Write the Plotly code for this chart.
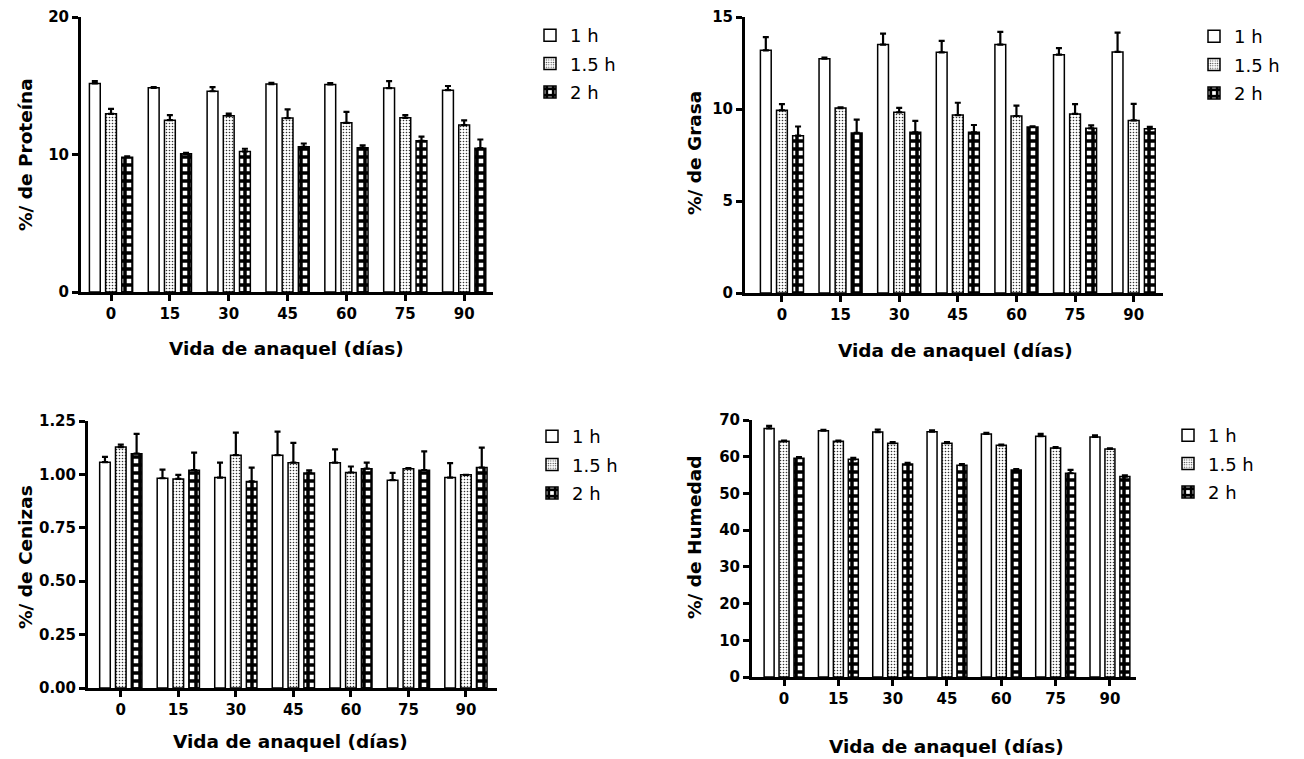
import plotly.graph_objects as go

# page body has an 8px margin; work in reference pixel coordinates and convert
OFF = 8
FW, FH = 1296, 751

dias = ["0", "15", "30", "45", "60", "75", "90"]
series_names = ["1 h", "1.5 h", "2 h"]

proteina_1h = [15.17, 14.85, 14.6, 15.12, 15.1, 14.83, 14.68]
proteina_1h_err = [0.17, 0.05, 0.3, 0.1, 0.1, 0.5, 0.3]
proteina_15h = [12.96, 12.5, 12.82, 12.65, 12.3, 12.67, 12.14]
proteina_15h_err = [0.36, 0.36, 0.15, 0.63, 0.8, 0.2, 0.34]
proteina_2h = [9.8, 10.05, 10.22, 10.56, 10.49, 11.0, 10.46]
proteina_2h_err = [0.07, 0.07, 0.2, 0.24, 0.17, 0.3, 0.63]

grasa_1h = [13.19, 12.73, 13.5, 13.08, 13.5, 12.95, 13.1]
grasa_1h_err = [0.72, 0.07, 0.6, 0.62, 0.69, 0.36, 1.05]
grasa_15h = [9.93, 10.05, 9.82, 9.67, 9.62, 9.73, 9.38]
grasa_15h_err = [0.34, 0.04, 0.24, 0.67, 0.56, 0.54, 0.9]
grasa_2h = [8.55, 8.7, 8.73, 8.73, 9.02, 8.95, 8.93]
grasa_2h_err = [0.5, 0.72, 0.62, 0.4, 0.04, 0.16, 0.1]

cenizas_1h = [1.057, 0.982, 0.985, 1.09, 1.055, 0.973, 0.985]
cenizas_1h_err = [0.025, 0.04, 0.07, 0.11, 0.062, 0.034, 0.068]
cenizas_15h = [1.128, 0.979, 1.09, 1.055, 1.009, 1.027, 0.998]
cenizas_15h_err = [0.011, 0.019, 0.106, 0.093, 0.028, 0.003, 0.0]
cenizas_2h = [1.097, 1.02, 0.967, 1.007, 1.027, 1.02, 1.032]
cenizas_2h_err = [0.093, 0.082, 0.065, 0.012, 0.028, 0.088, 0.093]

humedad_1h = [67.7, 67.1, 66.7, 66.8, 66.2, 65.6, 65.4]
humedad_1h_err = [0.7, 0.2, 0.7, 0.35, 0.3, 0.6, 0.45]
humedad_15h = [64.2, 64.2, 63.7, 63.7, 63.1, 62.4, 62.1]
humedad_15h_err = [0.2, 0.2, 0.3, 0.3, 0.2, 0.25, 0.2]
humedad_2h = [59.6, 59.3, 58.0, 57.7, 56.4, 55.5, 54.6]
humedad_2h_err = [0.3, 0.4, 0.3, 0.3, 0.2, 0.9, 0.3]

FONT = "DejaVu Sans, sans-serif"


def fx(px):
    return (px - OFF) / FW


def fy(py):
    return 1 - (py - OFF) / FH


patterns = [
    dict(shape="", fgcolor="black", bgcolor="white"),
    dict(shape=".", size=3, solidity=0.22, fgcolor="#333333", bgcolor="white"),
    dict(shape="+", size=8, solidity=0.68, fgcolor="black", bgcolor="white"),
]

# px: y-axis x, x-axis end; py: top value, zero; leg: (text start x, first item centre y)
panels = [
    dict(vals=[(proteina_1h, proteina_1h_err), (proteina_15h, proteina_15h_err), (proteina_2h, proteina_2h_err)],
         px=(81, 493), py=(17, 292), xr=[-0.51, 6.49], yr=[0, 20], ytv=[0, 10, 20], yfmt="d",
         ytitle="%/ de Proteína", ytx=(25, 155), xtx=(286, 348), leg=(570, 35)),
    dict(vals=[(grasa_1h, grasa_1h_err), (grasa_15h, grasa_15h_err), (grasa_2h, grasa_2h_err)],
         px=(745, 1163), py=(17, 293), xr=[-0.63, 6.5], yr=[0, 15], ytv=[0, 5, 10, 15], yfmt="d",
         ytitle="%/ de Grasa", ytx=(694, 153), xtx=(955, 350), leg=(1234, 36)),
    dict(vals=[(cenizas_1h, cenizas_1h_err), (cenizas_15h, cenizas_15h_err), (cenizas_2h, cenizas_2h_err)],
         px=(88, 497), py=(421, 688), xr=[-0.57, 6.54], yr=[0, 1.25], ytv=[0, 0.25, 0.5, 0.75, 1.0, 1.25], yfmt=".2f",
         ytitle="%/ de Cenizas", ytx=(25, 557), xtx=(290, 741), leg=(572, 436)),
    dict(vals=[(humedad_1h, humedad_1h_err), (humedad_15h, humedad_15h_err), (humedad_2h, humedad_2h_err)],
         px=(752, 1136), py=(420, 677), xr=[-0.59, 6.48], yr=[0, 70], ytv=[0, 10, 20, 30, 40, 50, 60, 70], yfmt="d",
         ytitle="%/ de Humedad", ytx=(694, 538), xtx=(946, 746), leg=(1208, 435)),
]

fig = go.Figure()
annotations = []
for i, p in enumerate(panels):
    n = i + 1
    xa = "x" if n == 1 else f"x{n}"
    ya = "y" if n == 1 else f"y{n}"
    legname = "legend" if n == 1 else f"legend{n}"
    for j, (vals, errs) in enumerate(p["vals"]):
        fig.add_trace(go.Bar(
            x=dias, y=vals, name=series_names[j],
            xaxis=xa, yaxis=ya, legend=legname, legendgroup=f"g{n}{j}",
            marker=dict(color="white", line=dict(color="black", width=1.5), pattern=patterns[j]),
            error_y=dict(type="data", symmetric=False, array=errs, arrayminus=[0] * len(errs),
                         color="black", thickness=2.2, width=3),
        ))
    axkey = "xaxis" if n == 1 else f"xaxis{n}"
    aykey = "yaxis" if n == 1 else f"yaxis{n}"
    fig.update_layout(**{
        axkey: dict(domain=[fx(p["px"][0]), fx(p["px"][1])], range=p["xr"], type="category",
                    anchor=ya, showline=True, linecolor="black", linewidth=3,
                    ticks="outside", ticklen=6, tickwidth=3, tickcolor="black",
                    showgrid=False, zeroline=False, automargin=False,
                    tickfont=dict(family=FONT, size=15, color="black", weight="bold")),
        aykey: dict(domain=[fy(p["py"][1]), fy(p["py"][0])], range=p["yr"],
                    anchor=xa, showline=True, linecolor="black", linewidth=3,
                    ticks="outside", ticklen=6, tickwidth=3, tickcolor="black",
                    tickvals=p["ytv"], tickformat=p["yfmt"],
                    showgrid=False, zeroline=False, automargin=False,
                    tickfont=dict(family=FONT, size=15, color="black", weight="bold")),
        legname: dict(x=fx(p["leg"][0] - 40), y=fy(p["leg"][1] - 18), xanchor="left", yanchor="top",
                      bgcolor="rgba(0,0,0,0)", tracegroupgap=2,
                      font=dict(family=FONT, size=18, color="black")),
    })
    annotations.append(dict(text=p["ytitle"], x=fx(p["ytx"][0]), y=fy(p["ytx"][1]),
                            xref="paper", yref="paper", showarrow=False, textangle=-90,
                            xanchor="center", yanchor="middle",
                            font=dict(family=FONT, size=18.5, color="black", weight="bold")))
    annotations.append(dict(text="Vida de anaquel (días)", x=fx(p["xtx"][0]), y=fy(p["xtx"][1]),
                            xref="paper", yref="paper", showarrow=False,
                            xanchor="center", yanchor="middle",
                            font=dict(family=FONT, size=18.5, color="black", weight="bold")))

fig.update_layout(
    template="none",
    width=FW, height=FH, margin=dict(l=0, r=0, t=0, b=0, autoexpand=False),
    paper_bgcolor="white", plot_bgcolor="white",
    barmode="group", bargap=0.175, bargroupgap=0.33,
    showlegend=True, annotations=annotations,
)

fig.write_html("out.html")
